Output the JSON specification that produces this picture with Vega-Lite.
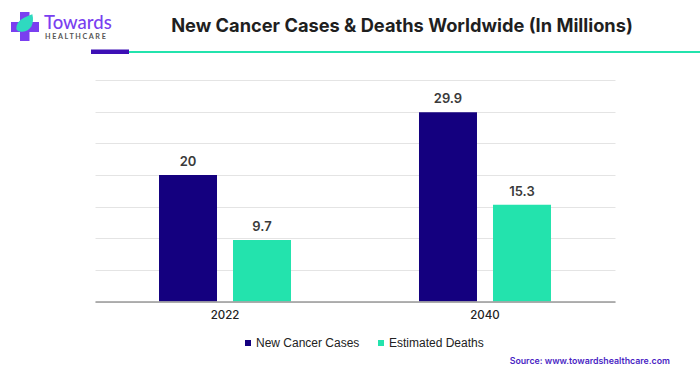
{
"$schema":"https://vega.github.io/schema/vega-lite/v6.json",
"width":520,"height":221.5,
"autosize":{"type":"none"},
"padding":{"left":95,"top":80,"right":85,"bottom":74.5},
"background":"#ffffff",
"view":{"stroke":null},
"resolve":{"scale":{"x":"independent","y":"independent"}},
"layer":[
{"data":{"name":"main","values":[
{"year":"2022","series":"New Cancer Cases","value":20,"label":"20"},
{"year":"2022","series":"Estimated Deaths","value":9.7,"label":"9.7"},
{"year":"2040","series":"New Cancer Cases","value":29.9,"label":"29.9"},
{"year":"2040","series":"Estimated Deaths","value":15.3,"label":"15.3"}]},
"mark":{"type":"bar","stroke":null},
"encoding":{
"x":{"field":"year","type":"nominal","scale":{"paddingInner":0.4923,"paddingOuter":0.2462},
"axis":{"title":null,"labelAngle":0,"labelFont":"Inter","labelFontSize":11.5,"labelFontWeight":500,"labelColor":"#222222","labelPadding":8,"ticks":false,"domainColor":"#999999","domainWidth":1.5,"grid":false,"zindex":1}},
"xOffset":{"field":"series","type":"nominal","sort":["New Cancer Cases","Estimated Deaths"],"scale":{"paddingInner":0.2162,"paddingOuter":0}},
"y":{"field":"value","type":"quantitative","scale":{"domain":[0,35],"nice":false},
"axis":{"title":null,"labels":false,"ticks":false,"domain":false,"grid":true,"gridColor":"#e4e4e4","gridWidth":1,"values":[0,5,10,15,20,25,30,35]}},
"color":{"field":"series","type":"nominal","sort":["New Cancer Cases","Estimated Deaths"],
"scale":{"domain":["New Cancer Cases","Estimated Deaths"],"range":["#14007f","#23e3ad"]},
"legend":{"orient":"none","legendX":147,"legendY":257,"direction":"horizontal","title":null,"symbolType":"square","symbolSize":36,"labelFont":"Liberation Sans","labelFontSize":12,"labelColor":"#222222","columnPadding":15,"labelOffset":2}}}},
{"data":{"name":"main"},
"mark":{"type":"text","baseline":"bottom","dy":-6,"font":"Inter","fontSize":13,"fontWeight":600,"color":"#3a3a3a"},
"encoding":{
"x":{"field":"year","type":"nominal","scale":{"paddingInner":0.4923,"paddingOuter":0.2462},"axis":null},
"xOffset":{"field":"series","type":"nominal","sort":["New Cancer Cases","Estimated Deaths"],"scale":{"paddingInner":0.2162,"paddingOuter":0}},
"y":{"field":"value","type":"quantitative","scale":{"domain":[0,35],"nice":false},"axis":null},
"text":{"field":"label"}}},
{"data":{"values":[{"part":"logo cross horizontal"}]},
"mark":{"type":"rect","color":"#7a3ff0"},
"encoding":{
"x":{"datum":11,"type":"quantitative","scale":{"domain":[0,700],"range":[-95,605]},"axis":null},"x2":{"datum":39},
"y":{"datum":22,"type":"quantitative","scale":{"domain":[0,376],"range":[-80,296]},"axis":null},"y2":{"datum":32}}},
{"data":{"values":[{"part":"logo cross vertical"}]},
"mark":{"type":"rect","color":"#7a3ff0"},
"encoding":{
"x":{"datum":20,"type":"quantitative","scale":{"domain":[0,700],"range":[-95,605]},"axis":null},"x2":{"datum":29.5},
"y":{"datum":12,"type":"quantitative","scale":{"domain":[0,376],"range":[-80,296]},"axis":null},"y2":{"datum":41}}},
{"data":{"values":[{"part":"logo leaf"}]},
"mark":{"type":"point","filled":true,"color":"#2fd9c0","opacity":1,"shape":"M 0.85 -1 C 1.1 0 0.7 1 -0.3 1 C -0.8 1 -1 0.85 -1 0.6 C -1 -0.3 0 -0.7 0.85 -1 Z","size":300},
"encoding":{
"x":{"datum":25,"type":"quantitative","scale":{"domain":[0,700],"range":[-95,605]},"axis":null},
"y":{"datum":23,"type":"quantitative","scale":{"domain":[0,376],"range":[-80,296]},"axis":null}}},
{"data":{"values":[{"part":"header bar"}]},
"mark":{"type":"rect","color":"#3d0fb5"},
"encoding":{
"x":{"datum":91,"type":"quantitative","scale":{"domain":[0,700],"range":[-95,605]},"axis":null},"x2":{"datum":129},
"y":{"datum":49.5,"type":"quantitative","scale":{"domain":[0,376],"range":[-80,296]},"axis":null},"y2":{"datum":54}}},
{"data":{"values":[{"part":"header line"}]},
"mark":{"type":"rect","color":"#23e3ad"},
"encoding":{
"x":{"datum":129,"type":"quantitative","scale":{"domain":[0,700],"range":[-95,605]},"axis":null},"x2":{"datum":700},
"y":{"datum":51,"type":"quantitative","scale":{"domain":[0,376],"range":[-80,296]},"axis":null},"y2":{"datum":53}}},
{"data":{"values":[{"t":"New Cancer Cases & Deaths Worldwide (In Millions)"}]},
"mark":{"type":"text","align":"center","baseline":"middle","font":"Inter","fontSize":18.25,"fontWeight":700,"color":"#1f1f1f"},
"encoding":{
"x":{"datum":402,"type":"quantitative","scale":{"domain":[0,700],"range":[-95,605]},"axis":null},
"y":{"datum":27,"type":"quantitative","scale":{"domain":[0,376],"range":[-80,296]},"axis":null},
"text":{"field":"t"}}},
{"data":{"values":[{"t":"Towards"}]},
"mark":{"type":"text","align":"left","baseline":"alphabetic","font":"Lato","fontSize":18.5,"fontWeight":500,"color":"#7a3ff0"},
"encoding":{
"x":{"datum":44,"type":"quantitative","scale":{"domain":[0,700],"range":[-95,605]},"axis":null},
"y":{"datum":29,"type":"quantitative","scale":{"domain":[0,376],"range":[-80,296]},"axis":null},
"text":{"field":"t"}}},
{"data":{"values":[{"t":"H E A L T H C A R E"}]},
"mark":{"type":"text","align":"left","baseline":"middle","font":"Lato","fontSize":7.2,"fontWeight":700,"color":"#555555"},
"encoding":{
"x":{"datum":45,"type":"quantitative","scale":{"domain":[0,700],"range":[-95,605]},"axis":null},
"y":{"datum":36.5,"type":"quantitative","scale":{"domain":[0,376],"range":[-80,296]},"axis":null},
"text":{"field":"t"}}},
{"data":{"values":[{"t":"Source: www.towardshealthcare.com"}]},
"mark":{"type":"text","align":"right","baseline":"middle","font":"Inter","fontSize":8.8,"fontWeight":600,"color":"#4a1fc4"},
"encoding":{
"x":{"datum":670,"type":"quantitative","scale":{"domain":[0,700],"range":[-95,605]},"axis":null},
"y":{"datum":361,"type":"quantitative","scale":{"domain":[0,376],"range":[-80,296]},"axis":null},
"text":{"field":"t"}}}
]}
